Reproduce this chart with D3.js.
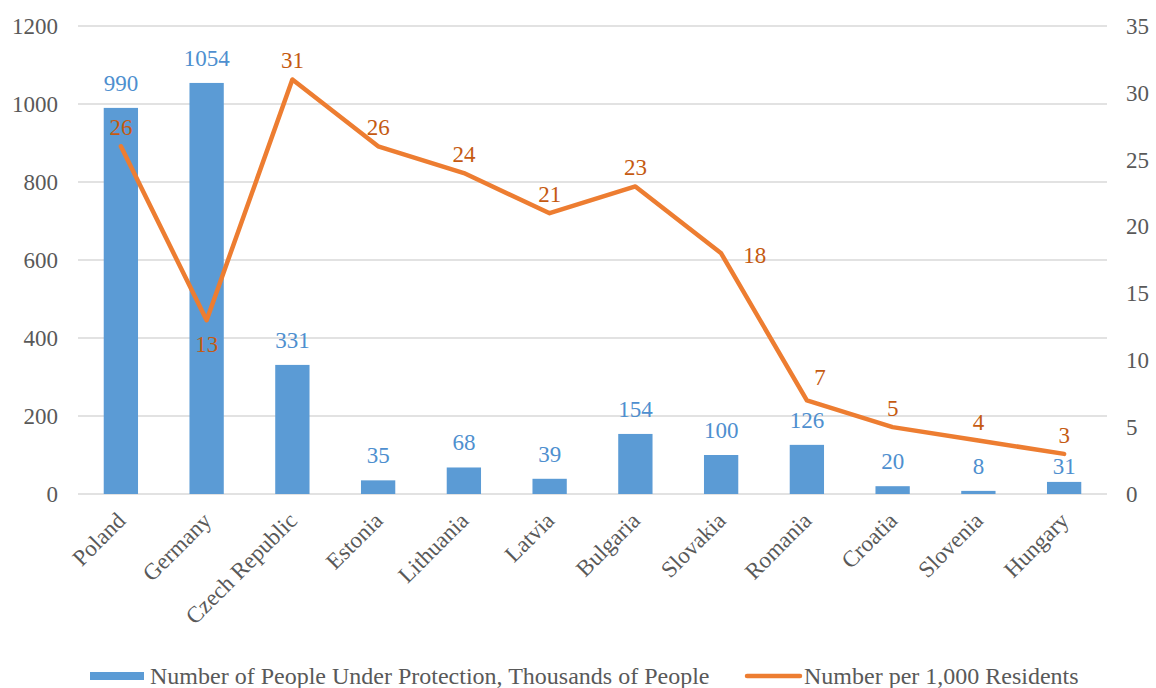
<!DOCTYPE html>
<html lang="en">
<head>
    <meta charset="UTF-8">
    <title>People under protection</title>
    <style>
        body { margin: 0; background: #fff; }
        text { font-family: "Liberation Serif", "Times New Roman", serif; }
    </style>
</head>
<body>

<script src="https://d3js.org/d3.v7.min.js"></script>
<script>
    var countries = ["Poland", "Germany", "Czech Republic", "Estonia", "Lithuania", "Latvia",
                     "Bulgaria", "Slovakia", "Romania", "Croatia", "Slovenia", "Hungary"];
    var people = [990, 1054, 331, 35, 68, 39, 154, 100, 126, 20, 8, 31];     // thousands
    var perThousand = [26, 13, 31, 26, 24, 21, 23, 18, 7, 5, 4, 3];          // per 1,000 residents
    var leftTicks = [0, 200, 400, 600, 800, 1000, 1200];
    var rightTicks = [0, 5, 10, 15, 20, 25, 30, 35];
    var seriesNames = ["Number of People Under Protection, Thousands of People", "Number per 1,000 Residents"];

    // where the line labels sit relative to their point
    var linePlace = {"Germany": "below", "Slovakia": "right", "Romania": "rightUp"};
    // bar labels pushed down to dodge the line label
    var barNudge = {"Hungary": 9};

    var W = 1156, H = 688;
    var margin = {top: 26, right: 49, bottom: 194, left: 78},
        width = W - margin.left - margin.right,
        height = H - margin.top - margin.bottom;

    var barColor = "#5B9BD5", lineColor = "#ED7D31";

    var x = d3.scaleBand().domain(countries).range([0, width]).paddingInner(0.6).paddingOuter(0.3);
    var xc = function(d) { return x(d) + x.bandwidth() / 2; };
    var yL = d3.scaleLinear().domain([0, 1200]).range([height, 0]);
    var yR = d3.scaleLinear().domain([0, 35]).range([height, 0]);

    var svg = d3.select('body').append('svg')
        .attr('width', W).attr('height', H);
    var g = svg.append('g')
        .attr('transform', `translate(${margin.left}, ${margin.top})`);

    // gridlines
    g.append('g').selectAll('line')
        .data(leftTicks)
      .enter().append('line')
        .attr('x1', 0).attr('x2', width)
        .attr('y1', function(d) { return yL(d); })
        .attr('y2', function(d) { return yL(d); })
        .attr('stroke', '#d9d9d9').attr('stroke-width', 1.3);

    var axL = g.append('g')
        .call(d3.axisLeft(yL).tickValues(leftTicks).tickFormat(d3.format('d')).tickSize(0).tickPadding(20));
    var axR = g.append('g')
        .attr('transform', `translate(${width}, 0)`)
        .call(d3.axisRight(yR).tickValues(rightTicks).tickFormat(d3.format('d')).tickSize(0).tickPadding(19));
    [axL, axR].forEach(function(a) {
        a.select('.domain').remove();
        a.selectAll('text')
            .style('font-family', '"Liberation Serif", serif')
            .style('font-size', '23px')
            .attr('fill', '#595959');
    });

    // category labels, rotated
    g.append('g').selectAll('text')
        .data(countries)
      .enter().append('text')
        .attr('transform', function(d) { return `translate(${xc(d) + 6}, ${height + 28}) rotate(-45)`; })
        .attr('text-anchor', 'end')
        .attr('fill', '#595959')
        .style('font-size', '23px')
        .text(function(d) { return d; });

    // bars
    g.append('g').selectAll('rect')
        .data(people)
      .enter().append('rect')
        .attr('x', function(d, i) { return x(countries[i]); })
        .attr('width', x.bandwidth())
        .attr('y', function(d) { return yL(d); })
        .attr('height', function(d) { return height - yL(d); })
        .attr('fill', barColor);

    g.append('g').selectAll('text')
        .data(people)
      .enter().append('text')
        .attr('x', function(d, i) { return xc(countries[i]); })
        .attr('y', function(d, i) { return yL(d) - 17 + (barNudge[countries[i]] || 0); })
        .attr('text-anchor', 'middle')
        .attr('fill', '#4E8FCF')
        .style('font-size', '23px')
        .text(function(d) { return d; });

    // line
    var line = d3.line()
        .x(function(d, i) { return xc(countries[i]); })
        .y(function(d) { return yR(d); });

    g.append('path')
        .datum(perThousand)
        .attr('d', line)
        .attr('fill', 'none')
        .attr('stroke', lineColor)
        .attr('stroke-width', 4.5)
        .attr('stroke-linejoin', 'round')
        .attr('stroke-linecap', 'round');

    g.append('g').selectAll('text')
        .data(perThousand)
      .enter().append('text')
        .attr('x', function(d, i) {
            var p = linePlace[countries[i]];
            if (p === 'right') return xc(countries[i]) + 22;
            if (p === 'rightUp') return xc(countries[i]) + 13;
            return xc(countries[i]);
        })
        .attr('y', function(d, i) {
            var p = linePlace[countries[i]];
            if (p === 'below') return yR(d) + 32;
            if (p === 'right') return yR(d) + 10;
            if (p === 'rightUp') return yR(d) - 15;
            return yR(d) - 11;
        })
        .attr('text-anchor', function(d, i) { return linePlace[countries[i]] === 'right' ? 'start' : 'middle'; })
        .attr('fill', '#C55A11')
        .style('font-size', '23px')
        .text(function(d) { return d; });

    // legend
    var leg = svg.append('g').attr('transform', 'translate(0, 676)');
    leg.append('rect')
        .attr('x', 90).attr('y', -4).attr('width', 54).attr('height', 8)
        .attr('fill', barColor);
    leg.append('text')
        .attr('x', 150).attr('y', 8)
        .attr('fill', '#595959').style('font-size', '24px')
        .text(seriesNames[0]);
    leg.append('line')
        .attr('x1', 747).attr('x2', 800).attr('y1', 0).attr('y2', 0)
        .attr('stroke', lineColor).attr('stroke-width', 4.5).attr('stroke-linecap', 'round');
    leg.append('text')
        .attr('x', 804).attr('y', 8)
        .attr('fill', '#595959').style('font-size', '24px')
        .text(seriesNames[1]);
</script>
</body>
</html>
